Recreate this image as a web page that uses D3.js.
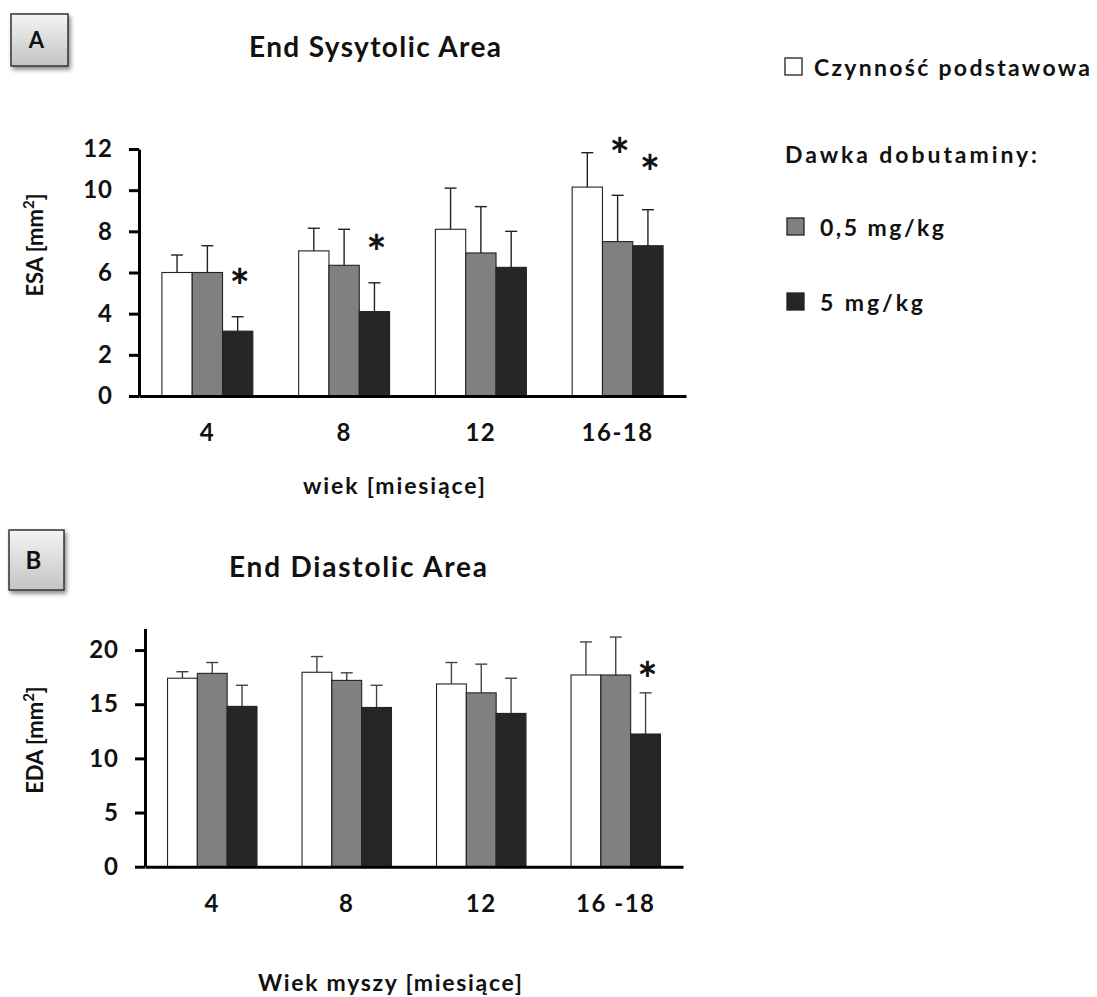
<!DOCTYPE html>
<html lang="pl">
<head>
<meta charset="utf-8">
<title>ESA / EDA</title>
<script src="https://cdn.jsdelivr.net/npm/d3@7"></script>
<style>
  body { margin: 0; background: #fff; }
  text { font-family: Lato, "Open Sans", sans-serif; fill: #111; }
</style>
</head>
<body>
<svg width="1097" height="997"></svg>
<script>
// --- data ---
const agesA = ["4", "8", "12", "16-18"];
const agesB = ["4", "8", "12", "16 -18"];
const series = ["Czynność podstawowa", "0,5 mg/kg", "5 mg/kg"];
const colors = ["#ffffff", "#808080", "#262626"];

// End Systolic Area, mean and upper error (mm2)
const esaBasal = [6.0, 7.05, 8.1, 10.15];
const esaLow   = [6.0, 6.35, 6.95, 7.5];
const esaHigh  = [3.15, 4.1, 6.25, 7.3];
const esaBasalErr = [0.85, 1.1, 2.0, 1.67];
const esaLowErr   = [1.3, 1.75, 2.25, 2.25];
const esaHighErr  = [0.7, 1.4, 1.75, 1.75];
// [age index, series index, level]
const esaStars = [[0, 2, 5.7], [1, 2, 7.35], [3, 1, 12.05], [3, 2, 11.2]];

// End Diastolic Area
const edaBasal = [17.4, 17.95, 16.87, 17.7];
const edaLow   = [17.85, 17.2, 16.05, 17.7];
const edaHigh  = [14.8, 14.7, 14.15, 12.25];
const edaBasalErr = [0.6, 1.45, 1.98, 3.05];
const edaLowErr   = [1.0, 0.7, 2.65, 3.5];
const edaHighErr  = [1.95, 2.05, 3.25, 3.8];
const edaStars = [[3, 2, 18.0]];

const svg = d3.select("svg");
const defs = svg.append("defs");
const grad = defs.append("linearGradient").attr("id", "boxgrad")
  .attr("x1", 0).attr("y1", 0).attr("x2", 0).attr("y2", 1);
grad.append("stop").attr("offset", "0%").attr("stop-color", "#f4f4f4");
grad.append("stop").attr("offset", "100%").attr("stop-color", "#c4c4c4");
defs.append("filter").attr("id", "shadow")
  .attr("x", "-20%").attr("y", "-20%").attr("width", "150%").attr("height", "150%")
  .append("feDropShadow").attr("dx", 2).attr("dy", 3).attr("stdDeviation", 2)
  .attr("flood-color", "#000").attr("flood-opacity", 0.45);

function panelBox(x, y, w, h, letter, size) {
  svg.append("rect").attr("x", x).attr("y", y).attr("width", w).attr("height", h)
    .attr("fill", "url(#boxgrad)").attr("stroke", "#333").attr("stroke-width", 1.5)
    .attr("filter", "url(#shadow)");
  svg.append("text").attr("x", x + w / 2 - 3).attr("y", y + h / 2)
    .attr("dy", "0.36em").attr("text-anchor", "middle")
    .attr("font-size", size).attr("font-weight", "bold").text(letter);
}

function drawPanel(p) {
  const x = d3.scaleBand().domain(p.ages).range([p.left, p.right]).paddingInner(0.335).paddingOuter(0.1675);
  const xs = d3.scaleBand().domain(d3.range(3)).range([0, x.bandwidth()]);
  const y = d3.scaleLinear().domain([0, p.max]).range([p.bottom, p.top]);

  const rows = [];
  p.means.forEach((m, s) => m.forEach((v, i) => rows.push({ age: p.ages[i], s, v, e: p.errs[s][i] })));

  const g = svg.append("g");

  // error bars (upper only)
  const eb = g.append("g").attr("stroke", p.errColor).attr("stroke-width", 1.4);
  rows.forEach(d => {
    const cx = x(d.age) + xs(d.s) + xs.bandwidth() / 2;
    eb.append("line").attr("x1", cx).attr("x2", cx).attr("y1", y(d.v)).attr("y2", y(d.v + d.e));
    eb.append("line").attr("x1", cx - 6).attr("x2", cx + 6).attr("y1", y(d.v + d.e)).attr("y2", y(d.v + d.e));
  });

  g.selectAll("rect.bar").data(rows).join("rect").attr("class", "bar")
    .attr("x", d => x(d.age) + xs(d.s))
    .attr("y", d => y(d.v))
    .attr("width", xs.bandwidth())
    .attr("height", d => y(0) - y(d.v))
    .attr("fill", d => colors[d.s])
    .attr("stroke", "#222").attr("stroke-width", 1.1);

  // axes
  const ya = g.append("g").attr("transform", `translate(${p.left},0)`)
    .call(d3.axisLeft(y).tickValues(p.ticks).tickSize(10).tickSizeOuter(0).tickPadding(16));
  ya.select(".domain").attr("stroke-width", 3);
  ya.selectAll(".tick line").attr("stroke-width", 3);
  ya.selectAll(".tick text").attr("font-size", p.tickFont).attr("font-weight", "bold")
    .attr("letter-spacing", "1px")
    .attr("font-family", "Lato, 'Open Sans', sans-serif").attr("fill", "#111");

  const xa = g.append("g").attr("transform", `translate(0,${p.bottom})`)
    .call(d3.axisBottom(x).tickSize(0).tickPadding(p.xPad));
  xa.select(".domain").attr("stroke-width", 3);
  xa.selectAll(".tick text").attr("font-size", p.tickFont).attr("font-weight", "bold")
    .attr("letter-spacing", "1.5px")
    .attr("font-family", "Lato, 'Open Sans', sans-serif").attr("fill", "#111");

  // significance stars
  p.stars.forEach(([i, s, lvl]) => {
    g.append("text")
      .attr("x", x(p.ages[i]) + xs(s) + xs.bandwidth() / 2 + 2)
      .attr("y", y(lvl) + 25)
      .attr("text-anchor", "middle").attr("font-size", 48).attr("font-weight", "bold")
      .text("*");
  });

  // titles
  svg.append("text").attr("x", p.titleX).attr("y", p.titleY).attr("text-anchor", "middle")
    .attr("font-size", 28).attr("font-weight", "bold")
    .attr("textLength", p.titleLen).attr("lengthAdjust", "spacing").text(p.title);
  svg.append("text").attr("x", p.xTitleX).attr("y", p.xTitleY).attr("text-anchor", "middle")
    .attr("font-size", 23).attr("font-weight", "bold")
    .attr("textLength", p.xTitleLen).attr("lengthAdjust", "spacing").text(p.xTitle);
  const yt = svg.append("text").attr("transform", `translate(${p.yTitleX},${p.yTitleY}) rotate(-90)`)
    .attr("text-anchor", "middle").attr("font-size", 22).attr("font-weight", "bold");
  yt.append("tspan").text(p.yTitle + " [mm");
  yt.append("tspan").attr("baseline-shift", "super").attr("font-size", 15).text("2");
  yt.append("tspan").text("]");
}

panelBox(11, 14, 57, 52, "A", 22);
panelBox(9, 530, 55, 60, "B", 24);

drawPanel({
  ages: agesA, means: [esaBasal, esaLow, esaHigh], errs: [esaBasalErr, esaLowErr, esaHighErr],
  stars: esaStars, max: 12, ticks: [0, 2, 4, 6, 8, 10, 12],
  left: 139, right: 686, top: 149, bottom: 396, tickFont: 24, xPad: 28, errColor: "#222",
  title: "End Sysytolic Area", titleX: 375, titleY: 57, titleLen: 252,
  xTitle: "wiek [miesiące]", xTitleX: 394, xTitleY: 494, xTitleLen: 182,
  yTitle: "ESA", yTitleX: 43, yTitleY: 245
});

drawPanel({
  ages: agesB, means: [edaBasal, edaLow, edaHigh], errs: [edaBasalErr, edaLowErr, edaHighErr],
  stars: edaStars, max: 22, ticks: [0, 5, 10, 15, 20],
  left: 145, right: 683, top: 628.4, bottom: 866.7, tickFont: 24, xPad: 28, errColor: "#444",
  title: "End Diastolic Area", titleX: 358, titleY: 577, titleLen: 258,
  xTitle: "Wiek myszy [miesiące]", xTitleX: 390, xTitleY: 991, xTitleLen: 264,
  yTitle: "EDA", yTitleX: 43, yTitleY: 740
});

// legend
const legend = svg.append("g");
const legendRows = [
  { s: 0, y: 76, boxX: 785, textX: 814, len: 276 },
  { s: 1, y: 236, boxX: 787, textX: 820, len: 124 },
  { s: 2, y: 311, boxX: 787, textX: 820, len: 103 }
];
legendRows.forEach(r => {
  legend.append("rect").attr("x", r.boxX).attr("y", r.y - 18).attr("width", 17).attr("height", 17)
    .attr("fill", colors[r.s]).attr("stroke", "#222").attr("stroke-width", 1.3);
  legend.append("text").attr("x", r.textX).attr("y", r.y).attr("font-size", 23).attr("font-weight", "bold")
    .attr("textLength", r.len).attr("lengthAdjust", "spacing").text(series[r.s]);
});
legend.append("text").attr("x", 785).attr("y", 163).attr("font-size", 23).attr("font-weight", "bold")
  .attr("textLength", 252).attr("lengthAdjust", "spacing").text("Dawka dobutaminy:");
</script>
</body>
</html>
